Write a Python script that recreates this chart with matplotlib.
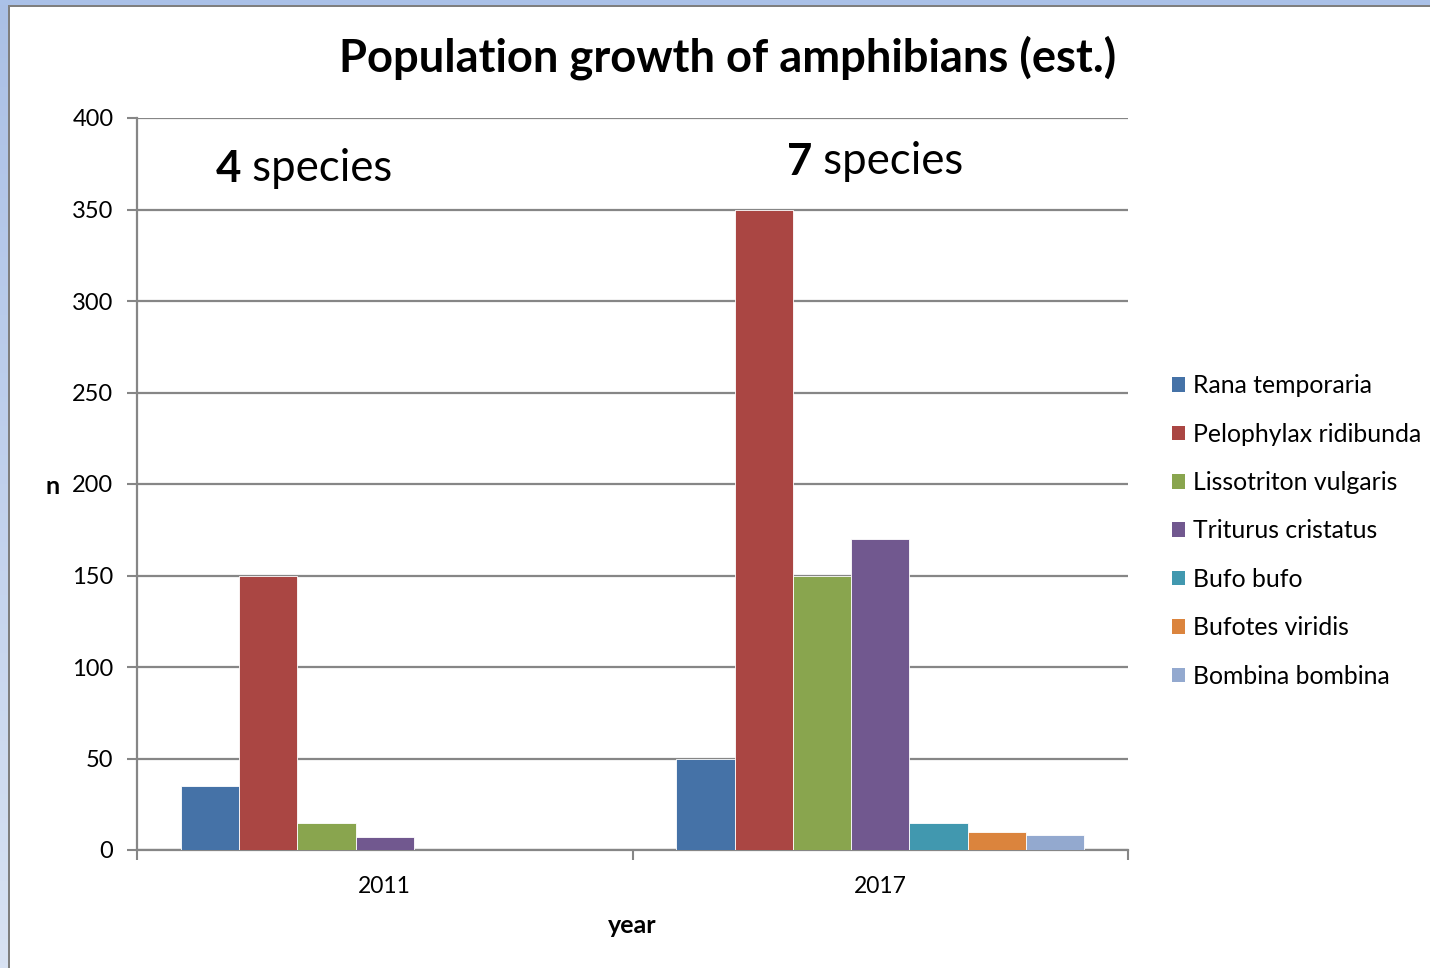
import matplotlib
matplotlib.use("Agg")
import matplotlib.pyplot as plt
import numpy as np
from matplotlib.patches import Rectangle, Patch

years = ["2011", "2017"]
species = ["Rana temporaria", "Pelophylax ridibunda", "Lissotriton vulgaris",
           "Triturus cristatus", "Bufo bufo", "Bufotes viridis", "Bombina bombina"]
vals_2011 = [35, 150, 15, 7, 0, 0, 0]
vals_2017 = [50, 350, 150, 170, 15, 10, 8]
colors = ["#4572A7", "#AA4643", "#89A54E", "#71588F", "#4198AF", "#DB843D", "#93A9CF"]
yticks = [0, 50, 100, 150, 200, 250, 300, 350, 400]

plt.rcParams['font.family'] = ['Lato', 'DejaVu Sans']
W, H = 1430, 968
fig = plt.figure(figsize=(W / 100, H / 100), dpi=100)
fig.patch.set_facecolor("white")

# window frame background
bg = fig.add_axes([0, 0, 1, 1], zorder=-10)
bg.set_xlim(0, W); bg.set_ylim(H, 0); bg.axis("off")
grad = np.linspace(0, 1, 200)[:, None]
top_c = np.array([170, 192, 230]) / 255
bot_c = np.array([216, 226, 243]) / 255
img = top_c[None, None, :] * (1 - grad[:, :, None]) + bot_c[None, None, :] * grad[:, :, None]
bg.imshow(img, extent=[0, 8, H, 0], aspect="auto")
bg.add_patch(Rectangle((0, 0), W, 5, color="#AAC1E8", lw=0))
bg.add_patch(Rectangle((8, 5), 2, H, color="#7F7F7F", lw=0))
bg.add_patch(Rectangle((8, 5), W, 2, color="#7F7F7F", lw=0))

ax = fig.add_axes([137 / W, 1 - 850 / H, (1128 - 137) / W, (850 - 118) / H])
ax.set_facecolor("none")
x = np.arange(len(years))
n = len(species)
w = 1 / (n + 1.5)
handles = []
for i, (sp, c) in enumerate(zip(species, colors)):
    v = [vals_2011[i], vals_2017[i]]
    ax.bar(x + (i - (n - 1) / 2) * w, v, width=w, color=c, edgecolor="#FFFFFF",
           linewidth=0.6, zorder=3)
    handles.append(Patch(facecolor=c, edgecolor="none", label=sp))

ax.set_xlim(-0.5, 1.5)
ax.set_ylim(0, 400)
ax.set_yticks(yticks)
ax.set_yticklabels([str(t) for t in yticks])
ax.set_xticks(x)
ax.set_xticklabels(years)
ax.set_xticks([-0.5, 0.5, 1.5], minor=True)
ax.tick_params(axis="x", which="major", length=0, labelsize=16.5, pad=19)
ax.tick_params(axis="x", which="minor", length=7, width=1.5, color="#868686")
ax.tick_params(axis="y", length=7, width=1.5, color="#868686", labelsize=17, pad=10)
ax.grid(axis="y", color="#868686", linewidth=1.6, zorder=0)
for s in ["top", "right"]:
    ax.spines[s].set_visible(False)
for s in ["left", "bottom"]:
    ax.spines[s].set_color("#868686")
    ax.spines[s].set_linewidth(1.6)

ax.set_xlabel("year", fontsize=18, fontweight="bold", labelpad=11.7)
fig.text(53 / W, 1 - 487 / H, "n", fontsize=18, fontweight="bold", ha="center", va="center")

fig.text(728 / W, 1 - 58 / H, "Population growth of amphibians (est.)", fontsize=32.7,
         fontweight="bold", ha="center", va="center")

t1 = fig.text(216 / W, 1 - 182 / H, "4", fontsize=31.5, fontweight="bold", va="baseline")
ax.annotate(" species", xy=(1, 0), xycoords=t1, fontsize=31.5, va="bottom")
t2 = fig.text(787 / W, 1 - 175 / H, "7", fontsize=31.5, fontweight="bold", va="baseline")
ax.annotate(" species", xy=(1, 0), xycoords=t2, fontsize=31.5, va="bottom")

fig.legend(handles=handles, loc="center left", bbox_to_anchor=(1162 / W, 1 - 531 / H),
           frameon=False, fontsize=17.8, handlelength=0.53, handleheight=0.53,
           handletextpad=0.32, labelspacing=1.03, borderaxespad=0)

fig.savefig("out.png", dpi=100)
